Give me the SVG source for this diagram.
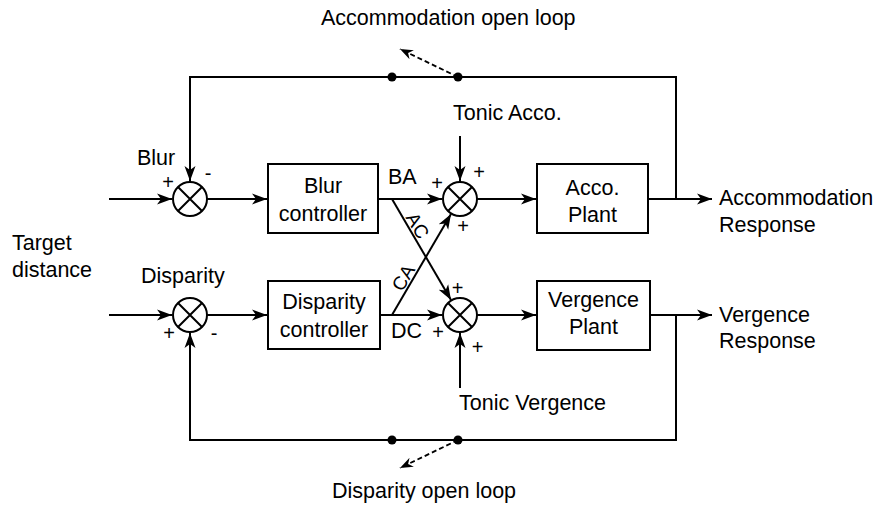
<svg xmlns="http://www.w3.org/2000/svg" width="877" height="507" viewBox="0 0 877 507">
<style>
text{font-family:"Liberation Sans",Arial,sans-serif;font-size:21.5px;fill:#000}
.c{text-anchor:middle}
.s{font-size:20px;text-anchor:middle}
.r{font-size:19px;text-anchor:middle}
.ln{fill:none;stroke:#000;stroke-width:2}
.ar{marker-end:url(#ah)}
.da{fill:none;stroke:#000;stroke-width:1.8;stroke-dasharray:5,3;marker-end:url(#ahs)}
.box{fill:#fff;stroke:#000;stroke-width:2}
.sum{fill:#fff;stroke:#000;stroke-width:2}
</style>
<defs>
<marker id="ah" markerUnits="userSpaceOnUse" viewBox="-15 -6 16 12" refX="0" refY="0" markerWidth="16" markerHeight="12" orient="auto">
<path d="M0,0 L-15,-5.5 L-11,0 L-15,5.5 Z" fill="#000"/>
</marker>
<marker id="ahs" markerUnits="userSpaceOnUse" viewBox="-13 -6 14 12" refX="0" refY="0" markerWidth="14" markerHeight="12" orient="auto">
<path d="M0,0 L-13,-5 L-9,0 L-13,5 Z" fill="#000"/>
</marker>
</defs>
<g id="connectors">
<path class="ln ar" d="M109,199 H172"/>
<path class="ln ar" d="M207,199 H267"/>
<path class="ln ar" d="M378,199 H442"/>
<path class="ln ar" d="M477,199 H536"/>
<path class="ln ar" d="M648,199 H712"/>
<path class="ln ar" d="M676,199 V77 H190 V181"/>
<path class="ln ar" d="M460,136 V181"/>
<path class="ln ar" d="M392,199 L451,300"/>
<path class="ln ar" d="M392,315 L451,214"/>
<path class="ln ar" d="M109,315 H172"/>
<path class="ln ar" d="M207,315 H267"/>
<path class="ln ar" d="M380,315 H442"/>
<path class="ln ar" d="M477,315 H536"/>
<path class="ln ar" d="M650,315 H712"/>
<path class="ln ar" d="M676,315 V440 H190 V333"/>
<path class="ln ar" d="M460,388 V333"/>
<circle cx="392" cy="77" r="4.5"/>
<circle cx="458" cy="77" r="4.5"/>
<circle cx="392" cy="440" r="4.5"/>
<circle cx="458" cy="440" r="4.5"/>
<path class="da" d="M458,77 L400,49"/>
<path class="da" d="M458,440 L400,468"/>
</g>
<g id="sum-blur">
<circle class="sum" cx="190" cy="199" r="17"/>
<path class="ln" d="M178,187 L202,211 M202,187 L178,211"/>
<text x="168" y="189" class="s">+</text>
<text x="208" y="180" class="s">-</text>
</g>
<g id="sum-disparity">
<circle class="sum" cx="190" cy="315" r="17"/>
<path class="ln" d="M178,303 L202,327 M202,303 L178,327"/>
<text x="169" y="339.5" class="s">+</text>
<text x="214" y="340" class="s">-</text>
</g>
<g id="sum-acco">
<circle class="sum" cx="460" cy="199" r="17"/>
<path class="ln" d="M448,187 L472,211 M472,187 L448,211"/>
<text x="437" y="189.5" class="s">+</text>
<text x="479" y="179" class="s">+</text>
<text x="463" y="233" class="s">+</text>
</g>
<g id="sum-verg">
<circle class="sum" cx="460" cy="315" r="17"/>
<path class="ln" d="M448,303 L472,327 M472,303 L448,327"/>
<text x="457.5" y="295" class="s">+</text>
<text x="438" y="339" class="s">+</text>
<text x="477.7" y="354" class="s">+</text>
</g>
<g id="blur-controller">
<rect class="box" x="268" y="164" width="110" height="69"/>
<text x="323" y="193" class="c">Blur</text>
<text x="323" y="221" class="c">controller</text>
</g>
<g id="disparity-controller">
<rect class="box" x="268" y="281" width="112" height="68"/>
<text x="324" y="309" class="c">Disparity</text>
<text x="324" y="337" class="c">controller</text>
</g>
<g id="acco-plant">
<rect class="box" x="537" y="164" width="111" height="69"/>
<text x="592.5" y="195" class="c">Acco.</text>
<text x="592.5" y="222" class="c">Plant</text>
</g>
<g id="vergence-plant">
<rect class="box" x="537" y="281" width="113" height="69"/>
<text x="593.5" y="307" class="c">Vergence</text>
<text x="593.5" y="334" class="c">Plant</text>
</g>
<g id="labels">
<text x="321" y="25">Accommodation open loop</text>
<text x="453" y="120">Tonic Acco.</text>
<text x="137" y="165">Blur</text>
<text x="388" y="184">BA</text>
<text x="391" y="338">DC</text>
<text x="12" y="250">Target</text>
<text x="12" y="277">distance</text>
<text x="141" y="283">Disparity</text>
<text x="719" y="205">Accommodation</text>
<text x="719" y="232">Response</text>
<text x="719" y="322">Vergence</text>
<text x="719" y="348">Response</text>
<text x="459" y="410">Tonic Vergence</text>
<text x="332" y="498">Disparity open loop</text>
<text class="r" transform="translate(412,229) rotate(59.6)">AC</text>
<text class="r" transform="translate(409,281) rotate(-59.6)">CA</text>
</g>
</svg>
